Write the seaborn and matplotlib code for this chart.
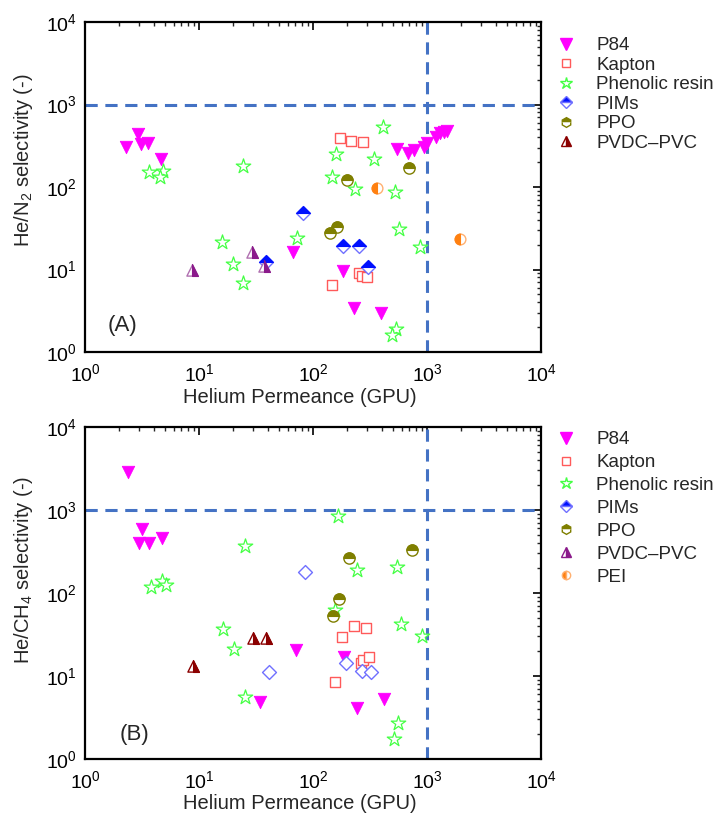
import numpy as np
import pandas as pd
import matplotlib
matplotlib.use("Agg")
import matplotlib.pyplot as plt
from matplotlib.markers import MarkerStyle
from matplotlib.lines import Line2D
from matplotlib.ticker import LogLocator, NullFormatter
import seaborn as sns

sns.set_theme(style="white")
plt.rcParams["font.family"] = ["Liberation Sans", "DejaVu Sans"]
plt.rcParams["mathtext.fontset"] = "custom"
plt.rcParams["mathtext.rm"] = "Liberation Sans"
plt.rcParams["mathtext.it"] = "Liberation Sans:italic"
plt.rcParams["mathtext.bf"] = "Liberation Sans:bold"

# ---------------- Panel A: He/N2 ----------------
a_p84_x = [2.3, 2.9, 3.1, 3.55, 4.6, 67, 182, 229, 398, 550, 676, 769, 942, 994, 1200, 1300, 1410, 1500]
a_p84_y = [309, 439, 329, 344, 220, 16.2, 9.5, 3.4, 2.95, 286, 257, 281, 308, 339, 407, 447, 468, 480]
a_kap_x = [173, 217, 276, 147, 251, 269, 299]
a_kap_y = [397, 361, 347, 6.4, 9.1, 8.4, 8.1]
a_phe_x = [3.67, 4.86, 4.58, 24.5, 15.9, 19.8, 24.5, 72, 408, 159, 341, 148, 233, 520, 568, 868, 532, 490]
a_phe_y = [153, 156, 133, 180, 21.5, 11.7, 6.8, 23.9, 537, 249, 218, 133, 94.6, 86, 31, 18.6, 1.88, 1.59]
a_pim_x = [82, 184, 254, 306, 39]
a_pim_y = [48, 19.3, 19.3, 10.8, 12.4]
a_ppo_x = [695, 200, 162, 142]
a_ppo_y = [168, 121.6, 33, 27.5]
a_pvdc_x = [8.6, 29, 37]
a_pvdc_y = [10.0, 16.2, 11.1]
a_pei_x = [364, 1946]
a_pei_y = [98, 23.2]

# ---------------- Panel B: He/CH4 ----------------
b_p84_x = [2.4, 3.14, 2.98, 3.62, 4.71, 71, 34.3, 188, 242, 417]
b_p84_y = [2890, 590, 404, 404, 464, 20.6, 4.82, 16.8, 4.1, 5.3]
b_kap_x = [180, 229, 292, 155, 262, 276, 312]
b_kap_y = [29.8, 40, 37.5, 8.4, 14.5, 15.6, 17.1]
b_phe_x = [25.3, 3.79, 4.71, 5.1, 16.3, 20.4, 25.3, 167, 243, 546, 156, 596, 910, 560, 514]
b_phe_y = [371, 119, 140, 125, 36.8, 21.1, 5.6, 847, 189, 204, 63, 42, 30.3, 2.69, 1.73]
b_pim_x = [41, 85, 195, 267, 323]
b_pim_y = [11.3, 181, 14.5, 11.6, 11.2]
b_ppo_x = [734, 208, 168, 150]
b_ppo_y = [330, 266, 85, 53]
b_pvdc_x = [8.9, 30, 39]
b_pvdc_y = [13.3, 28.5, 28.5]

series_names = ["P84", "Kapton", "Phenolic resin", "PIMs", "PPO", "PVDC\u2013PVC", "PEI"]
ticks = [1, 10, 100, 1000, 10000]
tick_labels = ["$10^0$", "$10^1$", "$10^2$", "$10^3$", "$10^4$"]

C_P84 = "#FF00FF"
C_KAP = "#FF5A5A"
C_PHE = "#44FF44"
C_PIM = "#0010FF"
C_PIM_L = "#7070FF"
C_PPO = "#7F7F00"
C_PVDC_A = "#8B1A8B"
C_PVDC_B = "#8B0000"
C_PEI = "#FF8010"
C_DASH = "#4472C4"

fig = plt.figure(figsize=(7.24, 8.16), dpi=100)
axA = fig.add_axes([85 / 724, 1 - 352 / 816, 456 / 724, 330 / 816])
axB = fig.add_axes([85 / 724, 1 - 759 / 816, 456 / 724, 332 / 816])


def df(x, y):
    return pd.DataFrame({"x": x, "y": y})


def filled(ax, x, y, marker, color, s):
    sns.scatterplot(data=df(x, y), x="x", y="y", ax=ax, marker=marker, color=color,
                    s=s, edgecolor=color, linewidth=0.6, zorder=3, legend=False)


def opened(ax, x, y, marker, color, s, lw=1.0):
    sns.scatterplot(data=df(x, y), x="x", y="y", ax=ax, marker=marker, color=color,
                    s=s, facecolor="white", edgecolor=color, linewidth=lw, zorder=3, legend=False)


def half(ax, x, y, marker, fs, color, edge, s):
    opened(ax, x, y, marker, edge, s, lw=1.0)
    sns.scatterplot(data=df(x, y), x="x", y="y", ax=ax, marker=MarkerStyle(marker, fillstyle=fs),
                    color=color, s=s, edgecolor=color, linewidth=0.8, zorder=4, legend=False)


def style_axis(ax, ylabel, letter, lx, ly, ylab_y, xlab_y):
    ax.set_xscale("log")
    ax.set_yscale("log")
    ax.set_xlim(1, 1e4)
    ax.set_ylim(1, 1e4)
    ax.set_xticks(ticks)
    ax.set_xticklabels(tick_labels)
    ax.set_yticks(ticks)
    ax.set_yticklabels(tick_labels)
    ax.xaxis.set_minor_locator(LogLocator(base=10, subs=np.arange(2, 10)))
    ax.yaxis.set_minor_locator(LogLocator(base=10, subs=np.arange(2, 10)))
    ax.xaxis.set_minor_formatter(NullFormatter())
    ax.yaxis.set_minor_formatter(NullFormatter())
    ax.tick_params(which="major", direction="in", length=6, width=1.2, top=True, right=True,
                   labelsize=14, colors="black")
    ax.tick_params(axis="x", which="major", pad=8)
    ax.tick_params(axis="y", which="major", pad=6)
    ax.tick_params(which="minor", direction="in", length=3, width=1.0, top=True, right=True)
    for sp in ax.spines.values():
        sp.set_color("black")
        sp.set_linewidth(1.6)
    ax.set_xlabel("Helium Permeance (GPU)", fontsize=14.5)
    ax.set_ylabel(ylabel, fontsize=14.5)
    ax.xaxis.set_label_coords(0.47, xlab_y)
    ax.yaxis.set_label_coords(-0.11, ylab_y)
    ax.axhline(1000, color=C_DASH, lw=2.2, ls=(0, (4, 2.5)), zorder=2)
    ax.axvline(1000, color=C_DASH, lw=2.2, ls=(0, (4, 2.5)), zorder=2)
    ax.text(lx, ly, letter, fontsize=16, ha="left", va="center")
    ax.grid(False)


# Panel A
style_axis(axA, "He/N$_2$ selectivity (-)", "(A)", 1.58, 2.1, 0.58, -0.11)
filled(axA, a_p84_x, a_p84_y, "v", C_P84, 80)
opened(axA, a_kap_x, a_kap_y, "s", C_KAP, 55)
opened(axA, a_phe_x, a_phe_y, "*", C_PHE, 120, lw=0.9)
half(axA, a_pim_x, a_pim_y, "D", "top", C_PIM, C_PIM_L, 50)
half(axA, a_ppo_x, a_ppo_y, "o", "top", C_PPO, C_PPO, 65)
half(axA, a_pvdc_x, a_pvdc_y, "^", "right", C_PVDC_A, "#B070B0", 65)
half(axA, a_pei_x, a_pei_y, "o", "left", C_PEI, "#FFB070", 60)

# Panel B
style_axis(axB, "He/CH$_4$ selectivity (-)", "(B)", 2.0, 1.95, 0.57, -0.105)
filled(axB, b_p84_x, b_p84_y, "v", C_P84, 80)
opened(axB, b_kap_x, b_kap_y, "s", C_KAP, 55)
opened(axB, b_phe_x, b_phe_y, "*", C_PHE, 120, lw=0.9)
opened(axB, b_pim_x, b_pim_y, "D", C_PIM_L, 50)
half(axB, b_ppo_x, b_ppo_y, "o", "top", C_PPO, C_PPO, 65)
half(axB, b_pvdc_x, b_pvdc_y, "^", "right", C_PVDC_B, C_PVDC_B, 65)


def handle(marker, fc, ec, fs="full", alt="white", ms=7):
    return Line2D([], [], ls="", marker=marker, markersize=ms, markerfacecolor=fc,
                  markeredgecolor=ec, fillstyle=fs, markerfacecoloralt=alt, markeredgewidth=1.0)


hA = [handle("v", C_P84, C_P84, ms=8),
      handle("s", "white", C_KAP, ms=6),
      handle("*", "white", C_PHE, ms=9),
      handle("D", C_PIM, C_PIM_L, fs="top", ms=6),
      handle("h", C_PPO, C_PPO, fs="top", ms=7),
      handle("^", C_PVDC_B, C_PVDC_B, fs="right", ms=7)]
hB = [handle("v", C_P84, C_P84, ms=8),
      handle("s", "white", C_KAP, ms=6),
      handle("*", "white", C_PHE, ms=9),
      handle("D", C_PIM, C_PIM_L, fs="top", ms=6),
      handle("h", C_PPO, C_PPO, fs="top", ms=7),
      handle("^", C_PVDC_A, C_PVDC_A, fs="right", ms=7),
      handle("o", C_PEI, "#FFB070", fs="left", ms=6)]

legA = fig.legend(hA, series_names[:6], loc="upper left", bbox_to_anchor=(540 / 724, 1 - 22 / 816),
                  frameon=False, fontsize=13.5, handlelength=1.2, handletextpad=1.0,
                  labelspacing=0.13, borderpad=0.3)
legB = fig.legend(hB, series_names, loc="upper left", bbox_to_anchor=(540 / 724, 1 - 416 / 816),
                  frameon=False, fontsize=13.5, handlelength=1.2, handletextpad=1.0,
                  labelspacing=0.31, borderpad=0.3)

fig.savefig("out.png", dpi=100, facecolor="white")
